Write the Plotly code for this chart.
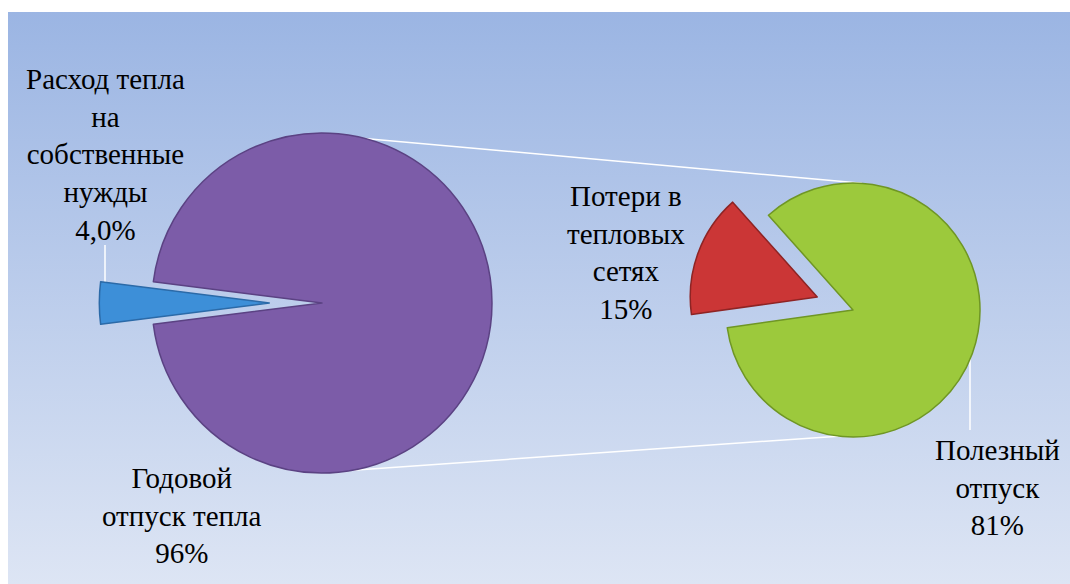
import math
import plotly.graph_objects as go

W, H = 1070, 584

# main pie: heat released by the source
main_labels = ["Расход тепла<br>на<br>собственные<br>нужды", "Годовой<br>отпуск тепла"]
main_values = [4.0, 96.0]
main_pct = ["4,0%", "96%"]
main_colors = ["#3d8fd8", "#7c5ca8"]

# secondary pie: breakdown of the annual release
sub_labels = ["Потери в<br>тепловых<br>сетях", "Полезный<br>отпуск"]
sub_values = [15, 81]
sub_pct = ["15%", "81%"]
sub_colors = ["#cb3636", "#9cc93c"]

FONT = "Liberation Serif"


def domain(cx, cy, r, pull):
    # pixel centre/radius (y from top) -> paper domain for a pie
    half = r * (1 + pull)
    x = [(cx - half) / W, (cx + half) / W]
    y = [(H - cy - half) / H, (H - cy + half) / H]
    return x, y


def on_circle(cx, cy, r, ang):
    # clock angle in degrees, returns plot coords (y from bottom)
    a = math.radians(ang)
    return cx + r * math.sin(a), H - (cy - r * math.cos(a))


L_CX, L_CY, L_R, L_PULL = 322, 303, 170, 0.31
R_CX, R_CY, R_R, R_PULL = 853, 310, 127, 0.30

fig = go.Figure()

# gradient backdrop
fig.add_trace(go.Scatter(
    x=[8, W, W, 8, 8], y=[0, 0, H - 12, H - 12, 0],
    mode="lines", fill="toself", line=dict(width=0),
    fillgradient=dict(type="vertical", colorscale=[[0, "#dde5f4"], [1, "#9bb5e3"]]),
    hoverinfo="skip", showlegend=False,
))

# connecting lines between the two pies
for la, ra in [(14.5, 4), (169.5, 186.7)]:
    x0, y0 = on_circle(L_CX, L_CY, L_R, la)
    x1, y1 = on_circle(R_CX, R_CY, R_R, ra)
    fig.add_trace(go.Scatter(x=[x0, x1], y=[y0, y1], mode="lines",
                             line=dict(color="white", width=1.5),
                             hoverinfo="skip", showlegend=False))

# leader lines
for x, ya, yb in [(105, 245, 302), (970, 355, 430)]:
    fig.add_trace(go.Scatter(x=[x, x], y=[H - ya, H - yb], mode="lines",
                             line=dict(color="white", width=1.5),
                             hoverinfo="skip", showlegend=False))

dx, dy = domain(L_CX, L_CY, L_R, L_PULL)
fig.add_trace(go.Pie(
    labels=main_labels, values=main_values, sort=False,
    direction="clockwise", rotation=270 - 360 * main_values[0] / sum(main_values) / 2,
    pull=[L_PULL, 0], textinfo="none", hoverinfo="label+percent",
    marker=dict(colors=main_colors, line=dict(color=["#2b6aa8", "#5b4283"], width=1.5)),
    domain=dict(x=dx, y=dy), showlegend=False,
))

dx, dy = domain(R_CX, R_CY, R_R, R_PULL)
fig.add_trace(go.Pie(
    labels=sub_labels, values=sub_values, sort=False,
    direction="clockwise", rotation=262,
    pull=[R_PULL, 0], textinfo="none", hoverinfo="label+percent",
    marker=dict(colors=sub_colors, line=dict(color=["#8e2424", "#6f9624"], width=1.5)),
    domain=dict(x=dx, y=dy), showlegend=False,
))

# labels (pixel positions of block centres, y from top)
label_pos = [(105, 154), (182, 515)]
for lab, pct, (px, py) in zip(main_labels, main_pct, label_pos):
    fig.add_annotation(x=px, y=H - py, text=f"{lab}<br>{pct}", showarrow=False,
                       font=dict(family=FONT, size=29, color="black"), align="center")

label_pos = [(626, 252), (997, 487)]
for lab, pct, (px, py) in zip(sub_labels, sub_pct, label_pos):
    fig.add_annotation(x=px, y=H - py, text=f"{lab}<br>{pct}", showarrow=False,
                       font=dict(family=FONT, size=29, color="black"), align="center")

fig.update_layout(
    width=W, height=H,
    margin=dict(l=0, r=0, t=0, b=0),
    paper_bgcolor="white", plot_bgcolor="white",
    font=dict(family=FONT),
    xaxis=dict(range=[0, W], visible=False, fixedrange=True),
    yaxis=dict(range=[0, H], visible=False, fixedrange=True),
)

fig.write_html("out.html", config={"displayModeBar": False},
               post_script="document.body.style.margin='0';")
